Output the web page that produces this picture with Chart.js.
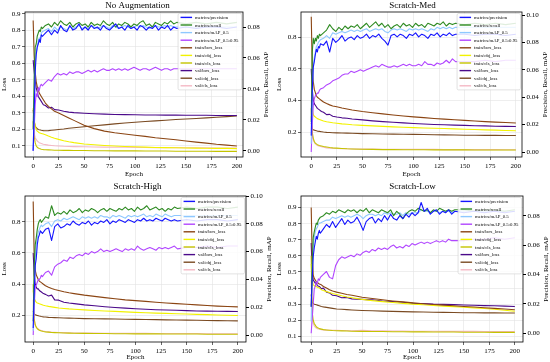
<!DOCTYPE html>
<html>
<head>
<meta charset="utf-8">
<script src="https://cdn.jsdelivr.net/npm/chart.js@4.4.1/dist/chart.umd.min.js"></script>
<style>
  body { margin: 0; background: #fff; }
  #wrap { position: relative; width: 550px; height: 362px; overflow: hidden; }
  .panel { position: absolute; width: 275px; height: 181px; }
</style>
</head>
<body>
<div id="wrap">
  <div class="panel" style="left:0;top:0"><canvas id="c_noaug" width="275" height="181"></canvas></div>
  <div class="panel" style="left:275px;top:0"><canvas id="c_med" width="275" height="181"></canvas></div>
  <div class="panel" style="left:0;top:181px"><canvas id="c_high" width="275" height="181"></canvas></div>
  <div class="panel" style="left:275px;top:181px"><canvas id="c_low" width="275" height="181"></canvas></div>
</div>
<script>
const METRIC_EPOCHS = [0, 1, 2, 3, 4, 5, 6, 7, 8, 9,
  12, 15, 18, 21, 24, 27, 30, 33, 36, 39, 42, 45, 48, 51, 54, 57, 60, 63, 66, 69, 72, 75,
  78, 81, 84, 87, 90, 93, 96, 99, 102, 105, 108, 111, 114, 117, 120, 123, 126, 129, 132,
  135, 138, 141, 150, 160, 170, 180, 190, 200];
const LOSS_EPOCHS = [0, 1, 2, 3, 4, 5, 6, 8, 10, 12, 15, 18, 21, 25, 30, 35, 40, 50, 60, 70,
  80, 90, 100, 110, 120, 130, 140, 150, 160, 170, 180, 190, 200];

const METRIC_LABELS = ["metrics/precision", "metrics/recall", "metrics/mAP_0.5", "metrics/mAP_0.5:0.95"];
const LOSS_LABELS = ["train/box_loss", "train/obj_loss", "train/cls_loss", "val/box_loss", "val/obj_loss", "val/cls_loss"];

const X_TICK_STEP = 25;

// ---- No Augmentation ----
const noAugPrecision = [0.000, 0.025, 0.051, 0.062, 0.067, 0.069, 0.072, 0.070, 0.075, 0.074,
  0.076, 0.078, 0.075, 0.078, 0.076, 0.081, 0.078, 0.077, 0.081, 0.078, 0.079, 0.082, 0.078, 0.080, 0.078,
  0.081, 0.079, 0.080, 0.078, 0.081, 0.079, 0.078, 0.080, 0.082, 0.079, 0.080, 0.078, 0.081, 0.079, 0.080,
  0.078, 0.081, 0.080, 0.078, 0.080, 0.079, 0.081, 0.078, 0.080, 0.079, 0.081, 0.078, 0.080, 0.079,
  0.080, 0.079, 0.080, 0.080, 0.079, 0.080];
const noAugRecall = [0.014, 0.046, 0.067, 0.069, 0.074, 0.076, 0.078, 0.077, 0.080, 0.079,
  0.081, 0.082, 0.080, 0.083, 0.081, 0.084, 0.082, 0.081, 0.083, 0.080, 0.082, 0.083, 0.081, 0.082, 0.080,
  0.083, 0.081, 0.082, 0.081, 0.084, 0.082, 0.081, 0.083, 0.080, 0.082, 0.081, 0.083, 0.082, 0.080, 0.082,
  0.081, 0.083, 0.084, 0.081, 0.082, 0.080, 0.083, 0.082, 0.081, 0.083, 0.082, 0.084, 0.082, 0.083,
  0.082, 0.083, 0.082, 0.083, 0.082, 0.083];
const noAugMap50 = [0.000, 0.025, 0.056, 0.063, 0.067, 0.071, 0.073, 0.072, 0.076, 0.077,
  0.078, 0.079, 0.077, 0.080, 0.078, 0.080, 0.079, 0.078, 0.080, 0.079, 0.080, 0.081, 0.079, 0.080, 0.079,
  0.081, 0.080, 0.079, 0.080, 0.081, 0.080, 0.079, 0.081, 0.080, 0.079, 0.080, 0.081, 0.080, 0.079, 0.080,
  0.081, 0.080, 0.081, 0.080, 0.079, 0.080, 0.081, 0.080, 0.080, 0.081, 0.080, 0.081, 0.080, 0.080,
  0.080, 0.080, 0.080, 0.080, 0.080, 0.080];
const noAugMap5095 = [0.000, 0.014, 0.030, 0.037, 0.035, 0.041, 0.039, 0.042, 0.043, 0.042,
  0.044, 0.046, 0.045, 0.048, 0.050, 0.049, 0.050, 0.049, 0.051, 0.050, 0.051, 0.051, 0.050, 0.051, 0.052,
  0.051, 0.052, 0.051, 0.052, 0.053, 0.052, 0.052, 0.053, 0.052, 0.053, 0.052, 0.053, 0.052, 0.053, 0.054,
  0.053, 0.052, 0.053, 0.053, 0.052, 0.053, 0.054, 0.053, 0.052, 0.053, 0.053, 0.052, 0.053, 0.053,
  0.053, 0.053, 0.053, 0.053, 0.053, 0.053];
const noAugTrainBox = [0.86, 0.65, 0.55, 0.49, 0.46, 0.44, 0.42, 0.40, 0.38, 0.36, 0.34, 0.325, 0.31, 0.30,
  0.285, 0.27, 0.255, 0.225, 0.205, 0.19, 0.18, 0.172, 0.165, 0.158, 0.15, 0.144, 0.138, 0.13, 0.123, 0.117, 0.11, 0.105, 0.10];
const noAugTrainObj = [0.33, 0.26, 0.22, 0.20, 0.19, 0.185, 0.18, 0.176, 0.172, 0.168, 0.16, 0.153, 0.147, 0.14,
  0.132, 0.125, 0.12, 0.112, 0.107, 0.103, 0.10, 0.097, 0.095, 0.093, 0.091, 0.09, 0.089, 0.088, 0.087, 0.086, 0.085, 0.085, 0.084];
const noAugTrainCls = [0.25, 0.16, 0.12, 0.10, 0.092, 0.087, 0.084, 0.08, 0.078, 0.077, 0.076, 0.075, 0.074, 0.074,
  0.073, 0.073, 0.072, 0.072, 0.071, 0.071, 0.07, 0.07, 0.07, 0.069, 0.069, 0.069, 0.068, 0.068, 0.068, 0.068, 0.067, 0.067, 0.067];
const noAugValBox = [0.62, 0.55, 0.50, 0.45, 0.43, 0.40, 0.39, 0.37, 0.35, 0.345, 0.33, 0.335, 0.32, 0.318,
  0.31, 0.305, 0.302, 0.298, 0.295, 0.293, 0.291, 0.29, 0.289, 0.288, 0.288, 0.287, 0.287, 0.286, 0.286, 0.286, 0.285, 0.285, 0.285];
const noAugValObj = [0.32, 0.25, 0.22, 0.21, 0.205, 0.20, 0.198, 0.195, 0.193, 0.192, 0.193, 0.195, 0.197, 0.20,
  0.203, 0.207, 0.21, 0.216, 0.222, 0.228, 0.234, 0.239, 0.244, 0.248, 0.252, 0.256, 0.26, 0.263, 0.266, 0.27, 0.274, 0.278, 0.282];
const noAugValCls = [0.22, 0.18, 0.15, 0.14, 0.13, 0.125, 0.12, 0.115, 0.11, 0.108, 0.105, 0.103, 0.101, 0.10,
  0.098, 0.097, 0.096, 0.095, 0.094, 0.093, 0.092, 0.092, 0.091, 0.091, 0.09, 0.09, 0.09, 0.089, 0.089, 0.089, 0.088, 0.088, 0.088];

// ---- Scratch-Med ----
const medPrecision = [0.012, 0.045, 0.062, 0.066, 0.071, 0.075, 0.073, 0.077, 0.076, 0.079,
  0.078, 0.081, 0.073, 0.083, 0.080, 0.082, 0.085, 0.081, 0.083, 0.084, 0.082, 0.085, 0.083, 0.084, 0.086,
  0.083, 0.085, 0.084, 0.086, 0.083, 0.081, 0.078, 0.085, 0.086, 0.084, 0.086, 0.085, 0.083, 0.086, 0.085,
  0.087, 0.084, 0.086, 0.085, 0.083, 0.086, 0.085, 0.087, 0.084, 0.086, 0.085, 0.087, 0.085, 0.086,
  0.086, 0.085, 0.086, 0.086, 0.085, 0.086];
const medRecall = [0.022, 0.073, 0.083, 0.079, 0.083, 0.081, 0.085, 0.083, 0.086, 0.085,
  0.087, 0.089, 0.093, 0.090, 0.088, 0.091, 0.089, 0.092, 0.090, 0.092, 0.091, 0.093, 0.090, 0.092, 0.094,
  0.091, 0.093, 0.095, 0.092, 0.094, 0.091, 0.093, 0.090, 0.092, 0.093, 0.091, 0.094, 0.092, 0.093, 0.091,
  0.094, 0.092, 0.093, 0.091, 0.094, 0.093, 0.092, 0.094, 0.093, 0.095, 0.092, 0.094, 0.093, 0.094,
  0.093, 0.094, 0.093, 0.094, 0.093, 0.094];
const medMap50 = [0.006, 0.043, 0.063, 0.069, 0.073, 0.077, 0.078, 0.080, 0.081, 0.082,
  0.083, 0.085, 0.083, 0.087, 0.086, 0.087, 0.088, 0.087, 0.088, 0.089, 0.088, 0.089, 0.088, 0.089, 0.090,
  0.088, 0.089, 0.090, 0.089, 0.090, 0.088, 0.087, 0.089, 0.090, 0.089, 0.090, 0.089, 0.088, 0.090, 0.089,
  0.090, 0.089, 0.090, 0.089, 0.088, 0.090, 0.089, 0.091, 0.090, 0.091, 0.090, 0.091, 0.090, 0.091,
  0.091, 0.091, 0.091, 0.091, 0.091, 0.091];
const medMap5095 = [0.000, 0.020, 0.034, 0.039, 0.041, 0.042, 0.043, 0.043, 0.045, 0.046,
  0.047, 0.049, 0.050, 0.052, 0.053, 0.054, 0.056, 0.057, 0.057, 0.059, 0.058, 0.059, 0.060, 0.059, 0.060,
  0.061, 0.062, 0.063, 0.062, 0.064, 0.063, 0.062, 0.062, 0.063, 0.062, 0.063, 0.064, 0.063, 0.064, 0.063,
  0.063, 0.064, 0.063, 0.066, 0.064, 0.064, 0.063, 0.065, 0.064, 0.065, 0.067, 0.065, 0.068, 0.066,
  0.066, 0.066, 0.067, 0.066, 0.067, 0.067];
const medTrainBox = [0.93, 0.62, 0.52, 0.47, 0.45, 0.43, 0.42, 0.41, 0.40, 0.39, 0.38, 0.372, 0.365, 0.36,
  0.352, 0.346, 0.34, 0.33, 0.322, 0.315, 0.308, 0.302, 0.296, 0.291, 0.286, 0.282, 0.278, 0.274, 0.27, 0.266, 0.263, 0.26, 0.257];
const medTrainObj = [0.40, 0.34, 0.31, 0.30, 0.295, 0.29, 0.285, 0.28, 0.275, 0.27, 0.265, 0.262, 0.259, 0.256,
  0.252, 0.249, 0.246, 0.242, 0.239, 0.236, 0.233, 0.23, 0.228, 0.226, 0.224, 0.222, 0.22, 0.218, 0.216, 0.214, 0.212, 0.21, 0.208];
const medTrainCls = [0.35, 0.20, 0.16, 0.14, 0.13, 0.125, 0.12, 0.115, 0.112, 0.108, 0.105, 0.102, 0.10, 0.098,
  0.096, 0.094, 0.093, 0.091, 0.09, 0.089, 0.089, 0.088, 0.088, 0.088, 0.087, 0.087, 0.087, 0.087, 0.086, 0.086, 0.086, 0.086, 0.086];
const medValBox = [0.60, 0.47, 0.40, 0.38, 0.37, 0.36, 0.35, 0.34, 0.33, 0.325, 0.31, 0.312, 0.30, 0.295,
  0.29, 0.287, 0.283, 0.277, 0.271, 0.266, 0.262, 0.258, 0.254, 0.251, 0.248, 0.246, 0.244, 0.242, 0.24, 0.239, 0.237, 0.236, 0.235];
const medValObj = [0.26, 0.22, 0.215, 0.212, 0.21, 0.208, 0.206, 0.204, 0.202, 0.20, 0.198, 0.197, 0.196, 0.195,
  0.194, 0.193, 0.192, 0.19, 0.189, 0.188, 0.187, 0.186, 0.185, 0.184, 0.183, 0.182, 0.181, 0.18, 0.18, 0.179, 0.179, 0.178, 0.178];
const medValCls = [0.30, 0.18, 0.15, 0.135, 0.125, 0.12, 0.115, 0.11, 0.107, 0.104, 0.10, 0.098, 0.097, 0.096,
  0.095, 0.094, 0.093, 0.092, 0.092, 0.091, 0.091, 0.09, 0.09, 0.09, 0.09, 0.089, 0.089, 0.089, 0.089, 0.089, 0.089, 0.088, 0.088];

// ---- Scratch-High ----
const highPrecision = [0.005, 0.030, 0.050, 0.055, 0.065, 0.070, 0.072, 0.075, 0.074, 0.073,
  0.076, 0.077, 0.068, 0.078, 0.080, 0.077, 0.078, 0.080, 0.079, 0.082, 0.080, 0.079, 0.081, 0.080, 0.082,
  0.079, 0.081, 0.080, 0.082, 0.081, 0.083, 0.080, 0.082, 0.081, 0.083, 0.082, 0.081, 0.083, 0.082, 0.081,
  0.083, 0.082, 0.084, 0.082, 0.083, 0.082, 0.084, 0.083, 0.082, 0.084, 0.083, 0.082, 0.083, 0.082,
  0.083, 0.082, 0.083, 0.083, 0.082, 0.083];
const highRecall = [0.010, 0.050, 0.065, 0.070, 0.076, 0.080, 0.082, 0.083, 0.081, 0.082,
  0.085, 0.084, 0.093, 0.086, 0.088, 0.087, 0.089, 0.087, 0.090, 0.088, 0.089, 0.091, 0.088, 0.090, 0.089,
  0.091, 0.090, 0.088, 0.090, 0.091, 0.089, 0.091, 0.090, 0.089, 0.091, 0.090, 0.092, 0.090, 0.091, 0.089,
  0.092, 0.090, 0.091, 0.093, 0.090, 0.091, 0.092, 0.090, 0.091, 0.089, 0.091, 0.090, 0.092, 0.091,
  0.092, 0.091, 0.092, 0.092, 0.091, 0.092];
const highMap50 = [0.003, 0.030, 0.055, 0.065, 0.070, 0.074, 0.076, 0.078, 0.079, 0.078,
  0.080, 0.081, 0.078, 0.082, 0.083, 0.082, 0.084, 0.083, 0.084, 0.085, 0.084, 0.083, 0.085, 0.084, 0.085,
  0.084, 0.085, 0.084, 0.086, 0.085, 0.085, 0.084, 0.086, 0.085, 0.086, 0.085, 0.084, 0.086, 0.085, 0.086,
  0.085, 0.086, 0.087, 0.085, 0.086, 0.085, 0.087, 0.086, 0.085, 0.087, 0.086, 0.085, 0.086, 0.086,
  0.086, 0.086, 0.086, 0.086, 0.086, 0.086];
const highMap5095 = [0.000, 0.020, 0.035, 0.036, 0.038, 0.040, 0.040, 0.041, 0.043, 0.042,
  0.045, 0.046, 0.043, 0.049, 0.051, 0.052, 0.054, 0.053, 0.056, 0.055, 0.057, 0.058, 0.057, 0.059, 0.058,
  0.060, 0.059, 0.060, 0.062, 0.060, 0.061, 0.060, 0.061, 0.062, 0.061, 0.060, 0.062, 0.061, 0.062, 0.061,
  0.064, 0.062, 0.061, 0.062, 0.063, 0.062, 0.061, 0.063, 0.062, 0.063, 0.062, 0.063, 0.064, 0.062,
  0.063, 0.063, 0.064, 0.063, 0.064, 0.064];
const highTrainBox = [0.93, 0.58, 0.49, 0.46, 0.445, 0.43, 0.42, 0.41, 0.40, 0.39, 0.38, 0.372, 0.366, 0.36,
  0.352, 0.345, 0.34, 0.33, 0.322, 0.314, 0.307, 0.30, 0.295, 0.29, 0.285, 0.28, 0.276, 0.272, 0.268, 0.264, 0.26, 0.257, 0.255];
const highTrainObj = [0.36, 0.31, 0.295, 0.285, 0.28, 0.278, 0.275, 0.27, 0.265, 0.262, 0.258, 0.255, 0.252, 0.248,
  0.245, 0.242, 0.24, 0.236, 0.232, 0.229, 0.226, 0.223, 0.22, 0.217, 0.215, 0.213, 0.211, 0.209, 0.207, 0.205, 0.203, 0.201, 0.20];
const highTrainCls = [0.40, 0.18, 0.14, 0.125, 0.115, 0.11, 0.105, 0.10, 0.097, 0.095, 0.093, 0.091, 0.09, 0.089,
  0.088, 0.087, 0.086, 0.085, 0.084, 0.084, 0.083, 0.083, 0.082, 0.082, 0.082, 0.081, 0.081, 0.081, 0.081, 0.08, 0.08, 0.08, 0.08];
const highValBox = [0.60, 0.46, 0.40, 0.38, 0.37, 0.37, 0.36, 0.35, 0.34, 0.335, 0.325, 0.33, 0.30, 0.298,
  0.285, 0.28, 0.276, 0.268, 0.262, 0.256, 0.251, 0.247, 0.243, 0.24, 0.237, 0.235, 0.233, 0.231, 0.229, 0.228, 0.227, 0.226, 0.225];
const highValObj = [0.23, 0.21, 0.205, 0.202, 0.20, 0.198, 0.196, 0.193, 0.191, 0.19, 0.188, 0.187, 0.186, 0.185,
  0.184, 0.183, 0.182, 0.18, 0.179, 0.178, 0.177, 0.176, 0.175, 0.174, 0.173, 0.172, 0.171, 0.17, 0.169, 0.168, 0.167, 0.166, 0.165];
const highValCls = [0.30, 0.17, 0.14, 0.125, 0.118, 0.113, 0.108, 0.104, 0.10, 0.097, 0.095, 0.093, 0.092, 0.091,
  0.09, 0.089, 0.088, 0.087, 0.087, 0.086, 0.086, 0.085, 0.085, 0.085, 0.084, 0.084, 0.084, 0.084, 0.084, 0.083, 0.083, 0.083, 0.083];

// ---- Scratch-Low ----
const lowPrecision = [0.018, 0.037, 0.052, 0.058, 0.062, 0.066, 0.064, 0.068, 0.070, 0.068,
  0.071, 0.074, 0.072, 0.076, 0.072, 0.075, 0.078, 0.074, 0.077, 0.075, 0.076, 0.079, 0.075, 0.070, 0.076,
  0.078, 0.079, 0.075, 0.078, 0.076, 0.080, 0.077, 0.081, 0.078, 0.077, 0.080, 0.078, 0.081, 0.079, 0.082,
  0.080, 0.082, 0.089, 0.083, 0.085, 0.081, 0.083, 0.084, 0.081, 0.083, 0.082, 0.084, 0.081, 0.083,
  0.082, 0.083, 0.082, 0.083, 0.082, 0.083];
const lowRecall = [0.018, 0.047, 0.065, 0.069, 0.072, 0.075, 0.074, 0.077, 0.078, 0.079,
  0.080, 0.082, 0.081, 0.083, 0.082, 0.084, 0.083, 0.082, 0.084, 0.083, 0.084, 0.082, 0.084, 0.083, 0.085,
  0.082, 0.084, 0.083, 0.082, 0.084, 0.083, 0.082, 0.084, 0.080, 0.083, 0.081, 0.078, 0.081, 0.083, 0.084,
  0.083, 0.085, 0.084, 0.083, 0.084, 0.082, 0.084, 0.083, 0.085, 0.084, 0.083, 0.084, 0.083, 0.084,
  0.084, 0.083, 0.084, 0.084, 0.083, 0.084];
const lowMap50 = [0.008, 0.042, 0.059, 0.065, 0.069, 0.071, 0.072, 0.074, 0.075, 0.075,
  0.076, 0.077, 0.077, 0.079, 0.078, 0.079, 0.080, 0.079, 0.080, 0.079, 0.080, 0.081, 0.080, 0.078, 0.080,
  0.081, 0.081, 0.080, 0.081, 0.080, 0.082, 0.081, 0.082, 0.081, 0.081, 0.082, 0.080, 0.082, 0.081, 0.082,
  0.082, 0.082, 0.084, 0.083, 0.083, 0.082, 0.083, 0.083, 0.082, 0.083, 0.083, 0.083, 0.082, 0.083,
  0.083, 0.083, 0.083, 0.083, 0.083, 0.083];
const lowMap5095 = [0.000, 0.010, 0.020, 0.030, 0.032, 0.035, 0.034, 0.037, 0.036, 0.038,
  0.040, 0.042, 0.038, 0.037, 0.046, 0.050, 0.052, 0.051, 0.052, 0.053, 0.052, 0.054, 0.053, 0.055, 0.056,
  0.055, 0.057, 0.056, 0.058, 0.057, 0.058, 0.057, 0.059, 0.060, 0.058, 0.059, 0.058, 0.060, 0.059, 0.061,
  0.060, 0.061, 0.062, 0.061, 0.062, 0.061, 0.062, 0.063, 0.062, 0.063, 0.062, 0.064, 0.063, 0.063,
  0.063, 0.064, 0.064, 0.065, 0.064, 0.065];
const lowTrainBox = [0.90, 0.60, 0.48, 0.46, 0.45, 0.44, 0.435, 0.425, 0.42, 0.41, 0.40, 0.39, 0.382, 0.375,
  0.368, 0.36, 0.355, 0.343, 0.335, 0.327, 0.32, 0.314, 0.308, 0.303, 0.298, 0.294, 0.29, 0.286, 0.282, 0.278, 0.274, 0.27, 0.265];
const lowTrainObj = [0.55, 0.45, 0.42, 0.415, 0.41, 0.41, 0.405, 0.40, 0.39, 0.385, 0.378, 0.372, 0.366, 0.36,
  0.352, 0.345, 0.34, 0.33, 0.322, 0.316, 0.31, 0.305, 0.30, 0.296, 0.292, 0.288, 0.285, 0.281, 0.277, 0.273, 0.268, 0.262, 0.256];
const lowTrainCls = [0.60, 0.25, 0.20, 0.18, 0.17, 0.16, 0.155, 0.148, 0.145, 0.142, 0.14, 0.138, 0.136, 0.135,
  0.134, 0.133, 0.132, 0.131, 0.13, 0.13, 0.129, 0.129, 0.128, 0.128, 0.127, 0.127, 0.127, 0.126, 0.126, 0.126, 0.125, 0.125, 0.125];
const lowValBox = [0.68, 0.50, 0.45, 0.44, 0.43, 0.435, 0.415, 0.41, 0.395, 0.40, 0.375, 0.37, 0.355, 0.352,
  0.34, 0.342, 0.333, 0.33, 0.327, 0.32, 0.316, 0.312, 0.305, 0.304, 0.30, 0.299, 0.297, 0.295, 0.293, 0.291, 0.29, 0.288, 0.286];
const lowValObj = [0.36, 0.31, 0.305, 0.30, 0.298, 0.296, 0.294, 0.29, 0.286, 0.283, 0.28, 0.277, 0.274, 0.27,
  0.268, 0.266, 0.264, 0.261, 0.259, 0.257, 0.255, 0.254, 0.252, 0.251, 0.25, 0.249, 0.248, 0.247, 0.247, 0.246, 0.246, 0.245, 0.245];
const lowValCls = [0.45, 0.22, 0.18, 0.165, 0.158, 0.152, 0.148, 0.144, 0.142, 0.14, 0.139, 0.138, 0.137, 0.137,
  0.136, 0.136, 0.135, 0.137, 0.134, 0.134, 0.133, 0.133, 0.132, 0.132, 0.132, 0.131, 0.131, 0.131, 0.131, 0.13, 0.13, 0.13, 0.13];

// line colours, same order as legend
const METRIC_COLORS = ["#1414ff", "#2e8b22", "#8ec8ff", "#b146ff"];
const LOSS_COLORS = ["#8b4513", "#f2f200", "#c4c400", "#4b0a8a", "#7a4a22", "#f4b8c4"];

const FONT = "Liberation Serif";

// frame, inner legend and the right-hand axis title (reads bottom to top like matplotlib)
const panelDecor = {
  id: "panelDecor",
  afterDatasetsDraw(chart) {
    const ctx = chart.ctx;
    const a = chart.chartArea;
    ctx.save();
    ctx.strokeStyle = "#000";
    ctx.lineWidth = 0.8;
    ctx.strokeRect(a.left, a.top, a.right - a.left, a.bottom - a.top);

    // legend box
    const sets = chart.data.datasets;
    ctx.font = "4.8px '" + FONT + "'";
    let tw = 0;
    sets.forEach(d => { tw = Math.max(tw, ctx.measureText(d.label).width); });
    const rowH = 7.6;
    const w = 17 + tw + 3;
    const h = rowH * sets.length + 0.4;
    const x0 = a.right - 1.5 - w;
    const y0 = a.top + 1.5;
    ctx.beginPath();
    ctx.roundRect(x0, y0, w, h, 1.5);
    ctx.fillStyle = "rgba(255,255,255,0.85)";
    ctx.fill();
    ctx.strokeStyle = "#cfcfcf";
    ctx.lineWidth = 0.6;
    ctx.stroke();
    ctx.textBaseline = "middle";
    ctx.textAlign = "left";
    sets.forEach((d, i) => {
      const y = y0 + 3.9 + i * rowH;
      ctx.strokeStyle = d.borderColor;
      ctx.lineWidth = 1.4;
      ctx.beginPath();
      ctx.moveTo(x0 + 2.5, y);
      ctx.lineTo(x0 + 14, y);
      ctx.stroke();
      ctx.fillStyle = "#000";
      ctx.fillText(d.label, x0 + 17, y + 0.3);
    });

    // right axis title
    ctx.font = "7px '" + FONT + "'";
    ctx.fillStyle = "#000";
    ctx.textAlign = "center";
    ctx.translate(a.right + 23, (a.top + a.bottom) / 2);
    ctx.rotate(-Math.PI / 2);
    ctx.fillText("Precision, Recall, mAP", 0, 0);
    ctx.restore();
  }
};

function buildPanel(canvasId, p) {
  const datasets = [];
  p.metrics.forEach((vals, i) => {
    datasets.push({
      label: METRIC_LABELS[i],
      data: METRIC_EPOCHS.map((e, j) => ({ x: e, y: vals[j] })),
      yAxisID: "y1",
      borderColor: METRIC_COLORS[i],
      borderWidth: 1.1
    });
  });
  p.losses.forEach((vals, i) => {
    datasets.push({
      label: LOSS_LABELS[i],
      data: LOSS_EPOCHS.map((e, j) => ({ x: e, y: vals[j] })),
      yAxisID: "y",
      borderColor: LOSS_COLORS[i],
      borderWidth: 1.1
    });
  });

  const tickFont = { family: FONT, size: 7 };
  new Chart(document.getElementById(canvasId), {
    type: "line",
    data: { datasets: datasets },
    plugins: [panelDecor],
    options: {
      responsive: false,
      animation: false,
      layout: { padding: 0 },
      elements: { point: { radius: 0 }, line: { tension: 0, borderJoinStyle: "round" } },
      plugins: {
        legend: { display: false },
        tooltip: { enabled: false },
        title: {
          display: true, text: p.title, color: "#000",
          font: { family: FONT, size: 9, weight: "normal" },
          padding: p.titlePad
        }
      },
      scales: {
        x: {
          type: "linear", min: p.xRange[0], max: p.xRange[1],
          ticks: { stepSize: X_TICK_STEP, includeBounds: false, color: "#000", font: tickFont, padding: 1.5, maxRotation: 0 },
          grid: { color: "#e3e3e3", lineWidth: 0.6, tickColor: "#000", tickLength: 3 },
          border: { display: false },
          title: { display: true, text: "Epoch", color: "#000", font: tickFont, padding: { top: 0, bottom: p.epochPad } },
          afterFit: s => { s.height = p.xH; }
        },
        y: {
          position: "left", min: p.yL[0], max: p.yL[1],
          ticks: { stepSize: p.yL[2], includeBounds: false, color: "#000", font: tickFont, padding: 1.5,
            callback: v => v.toFixed(1) },
          grid: { color: "#e3e3e3", lineWidth: 0.6, tickColor: "#000", tickLength: 3 },
          border: { display: false },
          title: { display: true, text: "Loss", color: "#000", font: tickFont, padding: 0 },
          afterFit: s => { s.width = p.yLW; }
        },
        y1: {
          position: "right", min: p.yR[0], max: p.yR[1],
          ticks: { stepSize: 0.02, includeBounds: false, color: "#000", font: tickFont, padding: 1.5,
            callback: v => v.toFixed(2) },
          grid: { drawOnChartArea: false, tickColor: "#000", tickLength: 3 },
          border: { display: false },
          afterFit: s => { s.width = p.yRW; }
        }
      }
    }
  });
}

buildPanel("c_noaug", {
  title: "No Augmentation", titlePad: { top: 0, bottom: 1.2 },
  xRange: [-8, 206], yL: [0.033, 0.912, 0.1], yR: [-0.004, 0.0897],
  yLW: 25, yRW: 32, xH: 24, epochPad: 3,
  metrics: [noAugPrecision, noAugRecall, noAugMap50, noAugMap5095],
  losses: [noAugTrainBox, noAugTrainObj, noAugTrainCls, noAugValBox, noAugValObj, noAugValCls]
});
buildPanel("c_med", {
  title: "Scratch-Med", titlePad: { top: 0, bottom: 1.2 },
  xRange: [-10, 206], yL: [0.042, 0.96, 0.2], yR: [-0.0036, 0.1022],
  yLW: 26, yRW: 28, xH: 24, epochPad: 3,
  metrics: [medPrecision, medRecall, medMap50, medMap5095],
  losses: [medTrainBox, medTrainObj, medTrainCls, medValBox, medValObj, medValCls]
});
buildPanel("c_high", {
  title: "Scratch-High", titlePad: { top: 0.6, bottom: 3.6 },
  xRange: [-8, 208], yL: [0.03, 0.965, 0.2], yR: [-0.005, 0.1],
  yLW: 25, yRW: 29, xH: 20, epochPad: 1,
  metrics: [highPrecision, highRecall, highMap50, highMap5095],
  losses: [highTrainBox, highTrainObj, highTrainCls, highValBox, highValObj, highValCls]
});
buildPanel("c_low", {
  title: "Scratch-Low", titlePad: { top: 0.6, bottom: 3.6 },
  xRange: [-10, 208], yL: [0.065, 0.972, 0.1], yR: [-0.006, 0.0934],
  yLW: 26, yRW: 27, xH: 20, epochPad: 1,
  metrics: [lowPrecision, lowRecall, lowMap50, lowMap5095],
  losses: [lowTrainBox, lowTrainObj, lowTrainCls, lowValBox, lowValObj, lowValCls]
});
</script>
</body>
</html>
